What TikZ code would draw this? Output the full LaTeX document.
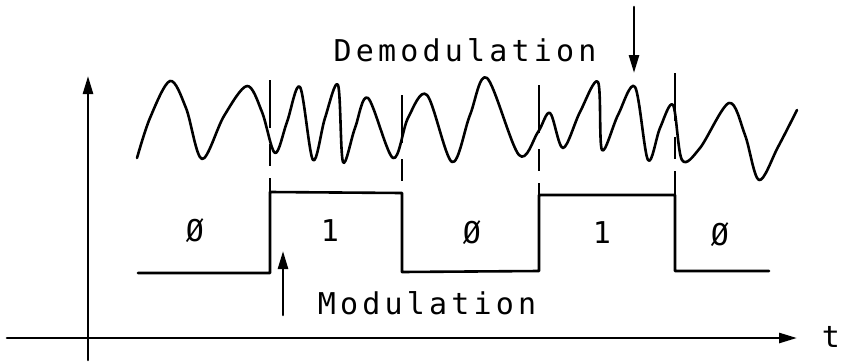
\documentclass[tikz,border=0pt]{standalone}
\usepackage{fontspec}
\newfontfamily\plotfont[LetterSpace=14]{DejaVu Sans Mono}
\usetikzlibrary{arrows.meta}
\tikzset{
  ln/.style={line width=2.6pt, line cap=round, line join=round},
  arr/.style={ln, -{Triangle[length=18pt,width=10pt]}},
  marker/.style={line width=2.4pt, dash pattern=on 48pt off 16pt on 22pt off 12pt},
  txt/.style={font=\plotfont\fontsize{30}{36}\selectfont, inner sep=0pt},
}
\begin{document}
\begin{tikzpicture}[x=1pt,y=-1pt]
\useasboundingbox (0,0) rectangle (844,362);
% axes
\coordinate (xs) at (7,338); \coordinate (xe) at (797,338);
\coordinate (ys) at (88,360); \coordinate (ye) at (88,76);
\draw[arr] (xs) -- (xe);
\draw[arr] (ys) -- (ye);
\node[txt] (t) at (831,337) {t};
% square wave
\draw[ln] (138,273) -- (270,273) -- (270,192) -- (402,193) -- (402,272)
  -- (539,271) -- (539,195) -- (675,195) -- (675,271) -- (769,271);
% markers
\draw[marker] (270,80) -- (270,192);
\draw[marker] (402,95) -- (402,192);
\draw[marker] (539,85) -- (539,195);
\draw[marker] (675,73) -- (675,195);
% carrier wave
\draw[ln] plot[smooth, tension=0.55] coordinates {
 (137,158) (150,118) (170,81) (186,108) (202,159) (224,116) (247,86) (262,112) (275,153)
 (287,122) (300,87) (313,160) (325,118) (338,85) (343,162) (355,128) (368,98) (393,158)
 (408,118) (427,95) (452,162) (470,115) (487,78) (519,155) (538,132) (550,113) (563,148)
 (580,112) (598,82) (602,150) (618,115) (635,87) (648,160) (660,128) (673,105) (682,160)
 (700,148) (729,103) (745,135) (759,180) (778,147) (797,110)};
% labels
\node[txt] (b1) at (195,231) {Ø};
\node[txt] (b2) at (330,231) {1};
\node[txt] (b3) at (472,233) {Ø};
\node[txt] (b4) at (602,233) {1};
\node[txt] (b5) at (720,235) {Ø};
\node[txt] (demod) at (465,50) {Demodulation};
\node[txt] (mod) at (427,303) {Modulation};
% pointer arrows
\coordinate (da) at (634,7); \coordinate (db) at (634,73);
\coordinate (ma) at (283,315); \coordinate (mb) at (283,251);
\draw[arr] (da) -- (db);
\draw[arr] (ma) -- (mb);
\end{tikzpicture}
\end{document}
